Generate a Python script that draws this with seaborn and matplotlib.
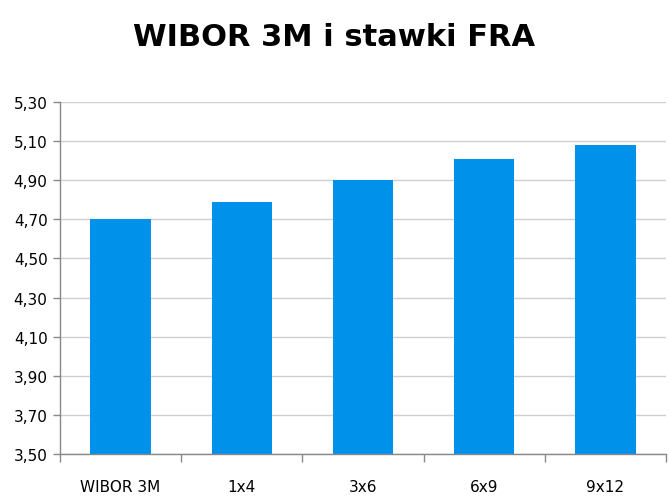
import matplotlib
matplotlib.use("Agg")
import matplotlib.pyplot as plt
import seaborn as sns
import pandas as pd
import numpy as np
from matplotlib.ticker import FixedLocator, FuncFormatter

# data
categories = ["WIBOR 3M", "1x4", "3x6", "6x9", "9x12"]
rates = [4.70, 4.79, 4.90, 5.01, 5.08]
y_ticks = [3.50, 3.70, 3.90, 4.10, 4.30, 4.50, 4.70, 4.90, 5.10, 5.30]

df = pd.DataFrame({"tenor": categories, "rate": rates})

sns.set_theme(style="white")
plt.rcParams["font.family"] = ["DejaVu Sans"]
plt.rcParams["text.color"] = "black"
plt.rcParams["xtick.color"] = "black"
plt.rcParams["ytick.color"] = "black"

fig = plt.figure(figsize=(6.69, 5.02), dpi=100)
ax = fig.add_axes([0.0897, 0.0936, 0.9058, 0.7014])

sns.barplot(data=df, x="tenor", y="rate", color="#0091EA", saturation=1,
            width=0.5, linewidth=0, ax=ax)

ax.set_ylim(y_ticks[0], y_ticks[-1])
ax.set_xlim(-0.5, len(categories) - 0.5)
ax.set_yticks(y_ticks)
ax.yaxis.set_major_formatter(FuncFormatter(lambda v, p: f"{v:.2f}".replace(".", ",")))
ax.grid(axis="y", color="#d0d0d0", linewidth=1)
ax.set_axisbelow(True)

# tick marks between categories, labels centred under bars
ax.xaxis.set_minor_locator(FixedLocator(np.arange(-0.5, len(categories), 1.0)))
ax.tick_params(axis="x", which="major", length=0, pad=18, labelsize=11, labelcolor="black")
ax.tick_params(axis="x", which="minor", length=6, width=1, color="#888888", direction="out")
ax.tick_params(axis="y", length=5, width=1, color="#888888", direction="out",
               labelsize=11, pad=4, labelcolor="black")
ax.tick_params(bottom=True, left=True, which="both")

for side in ["top", "right"]:
    ax.spines[side].set_visible(False)
for side in ["left", "bottom"]:
    ax.spines[side].set_color("#888888")
    ax.spines[side].set_linewidth(1)

ax.set_xlabel("")
ax.set_ylabel("")

fig.suptitle("WIBOR 3M i stawki FRA", x=0.5, y=0.955, fontsize=22,
             fontweight="bold", color="black")

fig.savefig("out.png", dpi=100)
